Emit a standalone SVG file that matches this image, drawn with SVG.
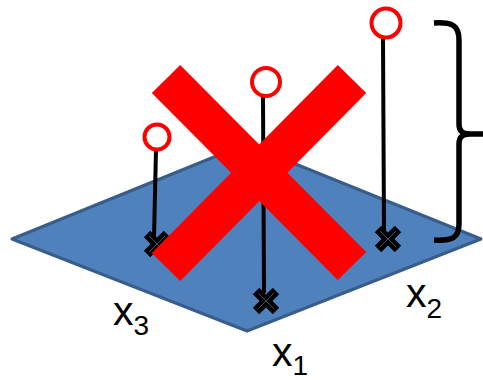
<svg xmlns="http://www.w3.org/2000/svg" width="483" height="380" viewBox="0 0 483 380">
<defs>
<style>
.plane{fill:#4f81bd;stroke:#385d8a;stroke-width:3;stroke-linejoin:round}
.stick{stroke:#000;stroke-width:4;fill:none}
.head{fill:#fff;stroke:#ff0000;stroke-width:4}
.mk{stroke:#000;stroke-width:9;stroke-linecap:butt}
.mkin{stroke:#5a7799;stroke-width:0.7}
.bar{stroke:#ff0000;stroke-width:40;stroke-linecap:butt}
.brace{fill:none;stroke:#000;stroke-width:5.5}
.lbl{font-family:"Liberation Sans",Arial,sans-serif;font-size:41px;fill:#000}
.sub{font-size:28px}
</style>
<g id="marker">
<line class="mk" x1="-10" y1="-10" x2="10" y2="10"/>
<line class="mk" x1="10" y1="-10" x2="-10" y2="10"/>
<line class="mkin" x1="-8" y1="-8" x2="8" y2="8"/>
<line class="mkin" x1="8" y1="-8" x2="-8" y2="8"/>
</g>
</defs>
<rect width="483" height="380" fill="#fff"/>
<g id="plane">
<polygon class="plane" points="12,239 246,144 481,239 247,331"/>
</g>
<g id="connectors">
<line class="stick" x1="156" y1="150" x2="154" y2="237"/>
<line class="stick" x1="263" y1="97" x2="264" y2="293"/>
<line class="stick" x1="383" y1="39" x2="384" y2="232"/>
</g>
<g id="point3">
<use href="#marker" x="157" y="244"/>
<circle class="head" cx="157" cy="137" r="12.5"/>
</g>
<g id="point1">
<use href="#marker" x="266" y="301"/>
<circle class="head" cx="266" cy="82" r="14"/>
</g>
<g id="point2">
<use href="#marker" x="388" y="239"/>
<circle class="head" cx="386" cy="23" r="14.5"/>
</g>
<g id="cross">
<line class="bar" x1="166" y1="79" x2="352" y2="266"/>
<line class="bar" x1="352" y1="79" x2="166" y2="267"/>
</g>
<g id="brace">
<path class="brace" d="M434,23 C452,22 459,25 459,40 L459,124 C459,131 462,134 470,134 L483,134 M434,240 C452,241 459,238 459,224 L459,144 C459,137 462,134 470,134"/>
</g>
<g id="labels">
<text class="lbl" x="113" y="325">x<tspan class="sub" dy="10">3</tspan></text>
<text class="lbl" x="272" y="366">x<tspan class="sub" dy="9">1</tspan></text>
<text class="lbl" x="406" y="307">x<tspan class="sub" dy="11">2</tspan></text>
</g>
</svg>
